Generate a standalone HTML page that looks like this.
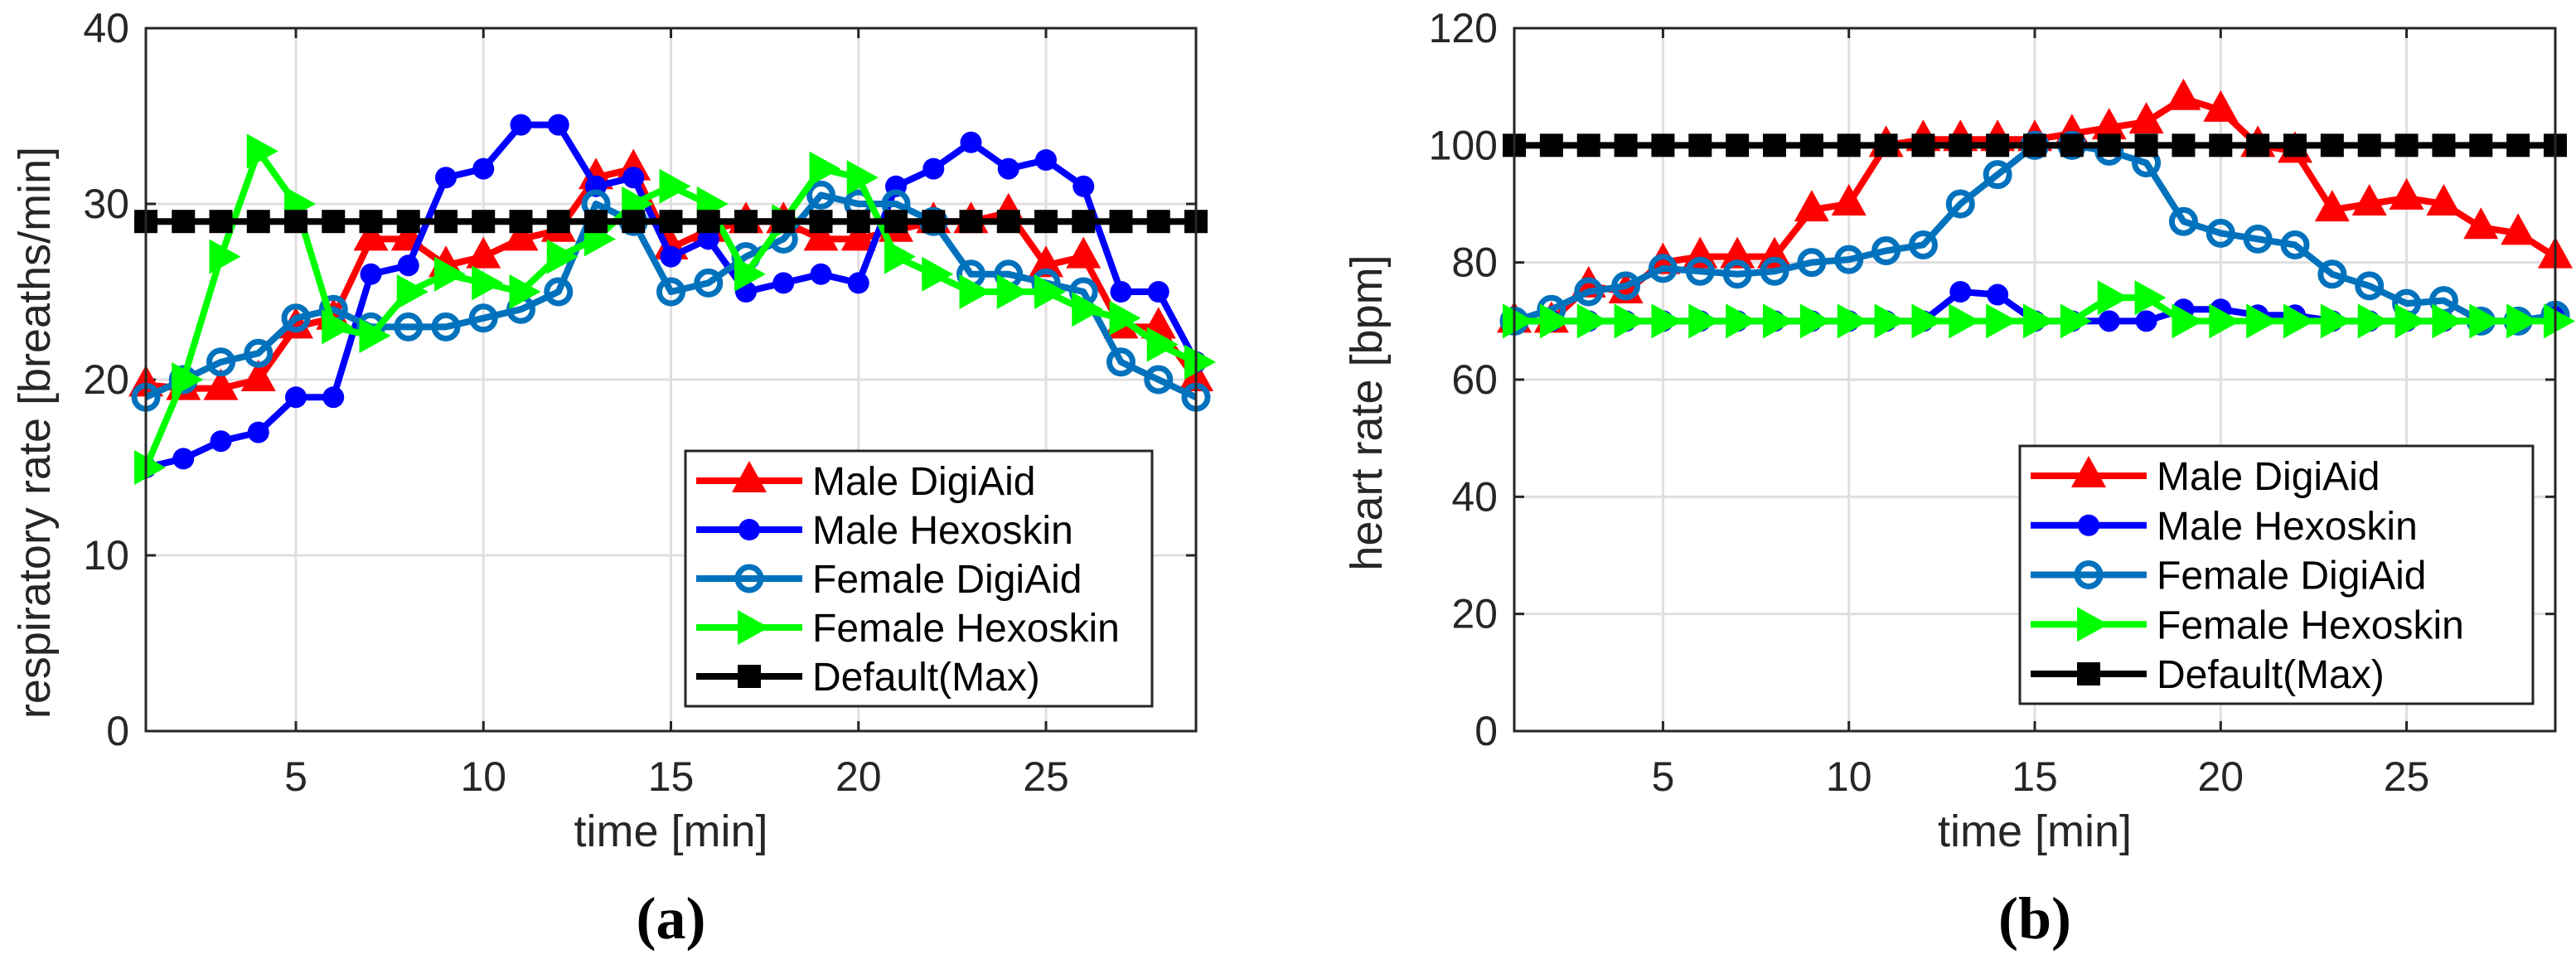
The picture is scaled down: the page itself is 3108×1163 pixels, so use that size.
<!DOCTYPE html>
<html><head><meta charset="utf-8">
<style>
html,body{margin:0;padding:0;background:#fff;}
svg{display:block;}
text{font-family:"Liberation Sans Narrow","Liberation Sans",sans-serif;fill:#262626;}
</style></head>
<body>
<svg id="fig" width="3108" height="1163" viewBox="0 0 3108 1163" xmlns="http://www.w3.org/2000/svg"></svg>
<script>
// shared x categories
const times = [1,2,3,4,5,6,7,8,9,10,11,12,13,14,15,16,17,18,19,20,21,22,23,24,25,26,27,28,29];
const xTicks = [5,10,15,20,25];
// panel (a): respiratory rate
const respMaleDigi = [19.7,19.5,19.5,20,23,23.5,28,28,26.5,27,28,28.5,31.5,32,27.5,28.5,29,29,28,28,28.5,29,29,29.5,26.5,27,23,23,20];
const respMaleHexo = [15,15.5,16.5,17,19,19,26,26.5,31.5,32,34.5,34.5,31,31.5,27,28,25,25.5,26,25.5,31,32,33.5,32,32.5,31,25,25,21];
const respFemDigi = [19,20,21,21.5,23.5,24,23,23,23,23.5,24,25,30,29,25,25.5,27,28,30.5,30,30,29,26,26,25.5,25,21,20,19];
const respFemHexo = [15,20,27,33,30,23,22.5,25,26,25.5,25,27,28,30,31,30,26,29,32,31.5,27,26,25,25,25,24,23.5,22,21];
const respDefault = [29,29,29,29,29,29,29,29,29,29,29,29,29,29,29,29,29,29,29,29,29,29,29,29,29,29,29,29,29];
const respTicks = [0,10,20,30,40];
// panel (b): heart rate
const hrMaleDigi = [70,70,76,75,80,81,81,81,89,90,100,101,101,101,101,102,103,104,108,106,100,99,89,90,91,90,86,85,81];
const hrMaleHexo = [70,70,70,70,70,70,70,70,70,70,70,70,75,74.5,70,70,70,70,72,72,71,71,70,70,70,70,70,70,71];
const hrFemDigi = [70,72,75,76,79,78.5,78,78.5,80,80.5,82,83,90,95,100,100,99,97,87,85,84,83,78,76,73,73.5,70,70,71];
const hrFemHexo = [70,70,70,70,70,70,70,70,70,70,70,70,70,70,70,70,74,74,70,70,70,70,70,70,70,70,70,70,70];
const hrDefault = [100,100,100,100,100,100,100,100,100,100,100,100,100,100,100,100,100,100,100,100,100,100,100,100,100,100,100,100,100];
const hrTicks = [0,20,40,60,80,100,120];
const seriesNames = ["Male DigiAid","Male Hexoskin","Female DigiAid","Female Hexoskin","Default(Max)"];

const NS="http://www.w3.org/2000/svg";
const svg=document.getElementById('fig');
function mk(tag,attrs,parent){const e=document.createElementNS(NS,tag);for(const k in attrs)e.setAttribute(k,attrs[k]);(parent||svg).appendChild(e);return e;}

const styles=[
 {color:"#ff0000",marker:"tri"},
 {color:"#0000ff",marker:"dot"},
 {color:"#0072bd",marker:"ring"},
 {color:"#00ff00",marker:"right"},
 {color:"#000000",marker:"sq"}
];
function marker(g,type,color,cx,cy){
  let e;
  if(type==="tri"){e=mk('polygon',{points:`${cx},${cy-24} ${cx-21},${cy+14} ${cx+21},${cy+14}`,fill:color},g);}
  else if(type==="dot"){e=mk('circle',{cx:cx,cy:cy,r:13,fill:color},g);}
  else if(type==="ring"){e=mk('circle',{cx:cx,cy:cy,r:14,fill:'none',stroke:color,'stroke-width':7},g);}
  else if(type==="right"){e=mk('polygon',{points:`${cx+24},${cy} ${cx-14},${cy-21} ${cx-14},${cy+21}`,fill:color},g);}
  else {e=mk('rect',{x:cx-14,y:cy-14,width:28,height:28,fill:color},g);}
  
  
  return e;
}

function panel(o){
  const g=mk('g',{});
  
  
  const X=v=>o.x0+(v-1)/28*(o.x1-o.x0);
  const Y=v=>o.y1-(v-o.ymin)/(o.ymax-o.ymin)*(o.y1-o.y0);
  mk('rect',{x:o.x0,y:o.y0,width:o.x1-o.x0,height:o.y1-o.y0,fill:'#fff'},g);
  xTicks.forEach(t=>{const l=mk('line',{x1:X(t),x2:X(t),y1:o.y0,y2:o.y1,stroke:'#dfdfdf','stroke-width':3},g);});
  o.yTicks.forEach(t=>{const l=mk('line',{x1:o.x0,x2:o.x1,y1:Y(t),y2:Y(t),stroke:'#dfdfdf','stroke-width':3},g);});
  xTicks.forEach(t=>{mk('line',{x1:X(t),x2:X(t),y1:o.y1,y2:o.y1-12,stroke:'#262626','stroke-width':3},g);mk('line',{x1:X(t),x2:X(t),y1:o.y0,y2:o.y0+12,stroke:'#262626','stroke-width':3},g);
    const tx=mk('text',{x:X(t),y:o.y1+72,'font-size':50,'text-anchor':'middle'},g);tx.textContent=t;
    });
  o.yTicks.forEach(t=>{mk('line',{x1:o.x0,x2:o.x0+12,y1:Y(t),y2:Y(t),stroke:'#262626','stroke-width':3},g);mk('line',{x1:o.x1,x2:o.x1-12,y1:Y(t),y2:Y(t),stroke:'#262626','stroke-width':3},g);
    const tx=mk('text',{x:o.x0-20,y:Y(t)+17,'font-size':50,'text-anchor':'end'},g);tx.textContent=t;
    });
  o.series.forEach((s,i)=>{
    const sg=mk('g',{},g);
    
    
    const pts=s.map((v,j)=>X(times[j])+','+Y(v)).join(' ');
    const pl=mk('polyline',{points:pts,fill:'none',stroke:styles[i].color,'stroke-width':8,'stroke-linejoin':'round'},sg);
    
    
    s.forEach((v,j)=>marker(sg,styles[i].marker,styles[i].color,X(times[j]),Y(v)));
  });
  const bx=mk('rect',{x:o.x0,y:o.y0,width:o.x1-o.x0,height:o.y1-o.y0,fill:'none',stroke:'#262626','stroke-width':3},g);
  
  const lg=mk('g',{},g);
  
  
  mk('rect',{x:o.lx0,y:o.ly0,width:o.lx1-o.lx0,height:o.ly1-o.ly0,fill:'#fff',stroke:'#262626','stroke-width':3},lg);
  seriesNames.forEach((n,i)=>{
    const ey=o.ly0+36+i*(o.ly1-o.ly0-72)/4;
    const eg=mk('g',{},lg);
    
    
    mk('line',{x1:o.lx0+13,x2:o.lx0+13+o.lineLen,y1:ey,y2:ey,stroke:styles[i].color,'stroke-width':8},eg);
    marker(eg,styles[i].marker,styles[i].color,o.lx0+13+o.lineLen/2,ey);
    const t=mk('text',{x:o.lx0+13+o.lineLen+12,y:ey+17,'font-size':48,fill:'#000'},eg);t.textContent=n;
    t.style.fill='#000';
  });
  const xl=mk('text',{x:(o.x0+o.x1)/2,y:1021,'font-size':54,'text-anchor':'middle'},g);xl.textContent='time [min]';
  
  const yl=mk('text',{x:0,y:0,'font-size':54,'text-anchor':'middle',transform:`translate(${o.ylx},${o.yly}) rotate(-90)`},g);yl.textContent=o.ylabel;
  
  const cap=mk('text',{x:(o.x0+o.x1)/2,y:1132,'font-size':72,'text-anchor':'middle','font-weight':'bold'},g);
  cap.style.fontFamily='"Liberation Serif",serif';cap.style.fill='#000';
  cap.textContent='('+o.cap+')';
  
}

panel({id:'respiratory-rate',x0:176,x1:1443,y0:34,y1:882,ymin:0,ymax:40,yTicks:respTicks,
  series:[respMaleDigi,respMaleHexo,respFemDigi,respFemHexo,respDefault],
  lx0:827,lx1:1390,ly0:544,ly1:852,lineLen:128,ylabel:'respiratory rate [breaths/min]',ylx:60,yly:522,cap:'a'});
panel({id:'heart-rate',x0:1827,x1:3083,y0:34,y1:882,ymin:0,ymax:120,yTicks:hrTicks,
  series:[hrMaleDigi,hrMaleHexo,hrFemDigi,hrFemHexo,hrDefault],
  lx0:2437,lx1:3056,ly0:538,ly1:849,lineLen:140,ylabel:'heart rate [bpm]',ylx:1667,yly:498,cap:'b'});
</script>
</body></html>
